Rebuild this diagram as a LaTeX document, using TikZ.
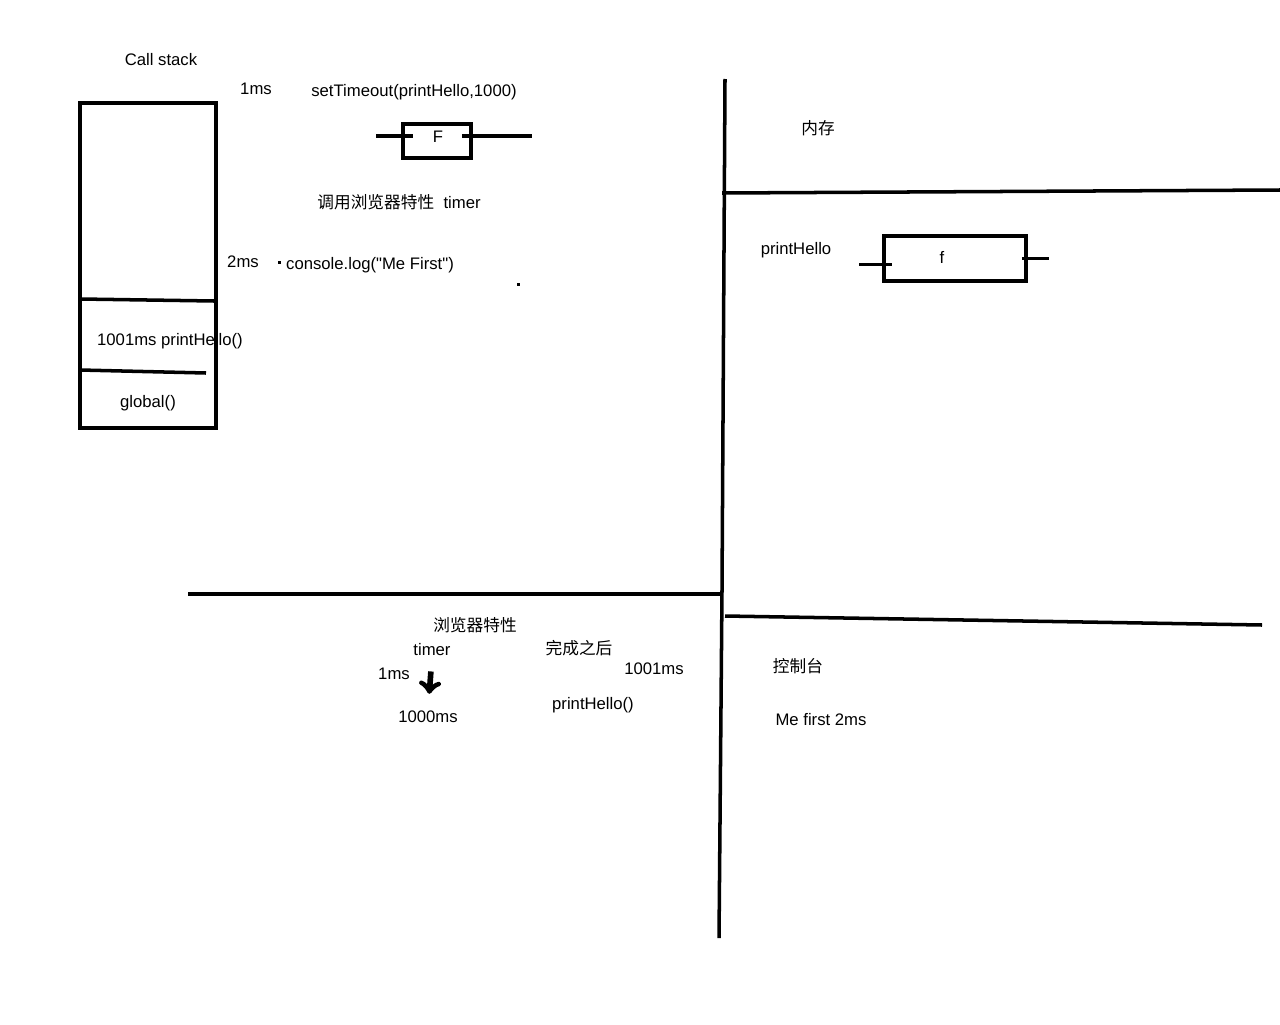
\documentclass[tikz,border=0pt]{standalone}
\usepackage{fontspec}
\setmainfont{Liberation Sans}
\newfontfamily\codefont{Liberation Sans}
\newfontfamily\cjk{Noto Sans CJK SC}
\usetikzlibrary{positioning}

\begin{document}
\begin{tikzpicture}[x=0.02cm, y=-0.02cm,
                    every node/.style={font=\fontsize{9.5}{11}\selectfont, inner sep=0pt},
                    stackbox/.style={draw, line width=2pt, minimum width=2.72cm, minimum height=6.5cm},
                    funbox/.style={draw, line width=2pt, minimum width=1.36cm, minimum height=0.68cm},
                    membox/.style={draw, line width=2pt, minimum width=2.84cm, minimum height=0.9cm},
                    wall/.style={line width=2pt},
                ]
                    \useasboundingbox (0,0) rectangle (1280,1024);

                    %Call stack
                    \node (cstitle) at (161,60) {Call stack};
                    \node[stackbox] (stack) at (148,265.5) {};
                    \draw[wall] (80,299) -- (214,301);
                    \draw[wall] (80,370) -- (206,373);
                    \node (hello) at (170,341) {1001ms printHello()};
                    \node (global) at (148,403) {global()};

                    %Steps
                    \node (ms1) at (256,89) {1ms};
                    \node (settimeout) at (414,92) {setTimeout(printHello,1000)};
                    \node[funbox] (fbox) at (437,141) {};
                    \node (fname) at (438,137) {F};
                    \draw[wall] (fbox.west) ++(-25,-5) -- ++(37,0);
                    \draw[wall] (fbox.east) ++(-11,-5) -- ++(70,0);
                    \node (callapi) at (399,202) {{\cjk 调用浏览器特性}\ \ timer};
                    \node (ms2) at (243,262) {2ms};
                    \node (melog) at (370,265) {\codefont console.log("Me First")};
                    \fill (277.5,260.5) rectangle ++(3,3);
                    \fill (516.5,282.5) rectangle ++(3,3);

                    %Memory
                    \node (mem) at (818,128) {\cjk 内存};
                    \node (memname) at (796,250) {printHello};
                    \node[membox] (memf) at (955,258.5) {};
                    \node (memfname) at (942,257) {f};
                    \draw[wall] (memf.west) ++(-23,6) -- ++(33,0);
                    \draw[wall] (memf.east) ++(-6,0) -- ++(27,0);

                    %Web APIs
                    \node (webapi) at (475,625) {\cjk 浏览器特性};
                    \node (timer) at (432,650) {timer};
                    \node (ms1b) at (394,674) {1ms};
                    \node (t1000) at (428,717) {1000ms};
                    \node (done) at (579,648) {\cjk 完成之后};
                    \node (ms1001) at (654,669) {1001ms};
                    \node (callhello) at (593,705) {printHello()};

                    %Console
                    \node (console) at (798,666) {\cjk 控制台};
                    \node (output) at (821,720) {Me first 2ms};

                    %Lines
                    \draw[wall] (725,79) -- (722,590) -- (719,938);
                    \draw[wall] (722,193) -- (1280,190);
                    \draw[wall] (188,594) -- (720,594);
                    \draw[wall] (725,616) -- (1262,625);
                    \draw[line width=3.2pt, ->, shorten <=0.3cm, shorten >=0.34cm](timer.south) -- (t1000.north);
                \end{tikzpicture}
\end{document}
